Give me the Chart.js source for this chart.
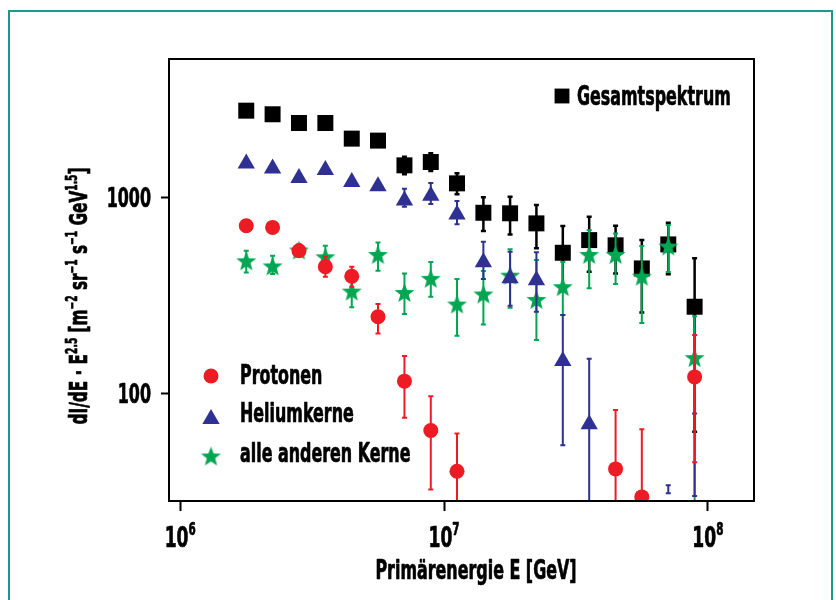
<!DOCTYPE html>
<html>
<head>
<meta charset="utf-8">
<script src="https://cdn.jsdelivr.net/npm/chart.js@4.4.1/dist/chart.umd.min.js"></script>
<style>
  html, body { margin: 0; padding: 0; background: #fff; }
  #wrap { width: 836px; height: 600px; }
</style>
</head>
<body>
<div id="wrap"><canvas id="spectrumChart" width="836" height="600"></canvas></div>
<script>
// energy bins [GeV]
const energies = [1.78e6, 2.24e6, 2.82e6, 3.55e6, 4.47e6, 5.62e6, 7.08e6, 8.91e6, 1.12e7,
  1.41e7, 1.78e7, 2.24e7, 2.82e7, 3.55e7, 4.47e7, 5.62e7, 7.08e7, 8.91e7];

// Gesamtspektrum
const totalFlux = [2780, 2665, 2405, 2405, 2002, 1956, 1463, 1521, 1184, 838, 833, 740, 524, 608, 572, 436, 578, 278];
const totalHigh = [null, null, null, null, null, null, 1619, 1685, 1332, 1005, 1012, 918, 717, 800, 720, 608, 746, 491];
const totalLow = [null, null, null, null, null, null, 1316, 1368, 1041, 676, 650, 552, 346, 419, 411, 260, 407, 64];

// Protonen
const protonFlux = [720, 706, 537, 445, 398, 247, 116, 65, 40.3, null, null, null, null, null, 41.4, 29.8, null, 122];
const protonHigh = [null, null, null, 500, 445, 287, 156, 97.3, 62.8, null, null, null, null, null, 82.6, 66, null, 199.5];
const protonLow = [null, null, null, 395, 352, 203, 75.4, 32.5, 20, null, null, null, null, null, 20, 20, null, 44.8];

// Heliumkerne
const heliumFlux = [1493, 1411, 1260, 1384, 1202, 1145, 968, 1025, 822, 469, 388, 380, 147, 70, null, null, null, null];
const heliumHigh = [null, null, null, null, null, null, 1111, 1189, 962, 596, 530, 527, 252, 151, null, null, 34.2, 79.4];
const heliumLow = [null, null, null, null, null, null, 900, 929, 732, 385, 281, 262, 54.7, 20, null, null, 31.1, 30.1];

// alle anderen Kerne
const otherFlux = [477, 449, 541, 500, 334, 514, 329, 388, 287, 323, 403, 303, 352, 514, 514, 398, 567, 153];
const otherHigh = [537, 506, 580, 569, 398, 592, 411, 470, 385, 423, 546, 481, 470, 684, 658, 567, 725, 249];
const otherLow = [416, 408, 505, 450, 276, 424, 255, 313, 198, 226, 275, 188, 252, 345, 363, 230, 418, 20];

const xTickValues = [1e6, 1e7, 1e8];
const xTickExponents = ["6", "7", "8"];
const yTickValues = [100, 1000];
const yTickLabels = ["100", "1000"];

const FONT = '"DejaVu Sans Condensed", "Liberation Sans", sans-serif';
const SX = 0.68; // the original uses a very narrow heavy face
const COLORS = {
  total: "#000000",
  proton: "#ed1c24",
  helium: "#2e3192",
  other: "#00a651",
  frame: "#1b9a8c",
};

function makeStar(color, outer, inner) {
  const c = document.createElement("canvas");
  const size = Math.ceil(outer * 2) + 2;
  c.width = size;
  c.height = size;
  const g = c.getContext("2d");
  const cx = size / 2, cy = size / 2 + 1;
  g.beginPath();
  for (let k = 0; k < 10; k++) {
    const r = k % 2 === 0 ? outer : inner;
    const a = -Math.PI / 2 + (k * Math.PI) / 5;
    const px = cx + r * Math.cos(a), py = cy + r * Math.sin(a);
    if (k === 0) g.moveTo(px, py);
    else g.lineTo(px, py);
  }
  g.closePath();
  g.fillStyle = color;
  g.fill();
  return c;
}

const starImg = makeStar(COLORS.other, 10.5, 4.4);

function toPoints(values) {
  return energies.map((e, i) => ({ x: e, y: values[i] }));
}

// error bars under each dataset's markers
const errorBarPlugin = {
  id: "errorBars",
  beforeDatasetDraw(chart, args) {
    const ds = chart.data.datasets[args.index];
    if (!ds.errHigh) return;
    const ctx = chart.ctx;
    const xs = chart.scales.x, ys = chart.scales.y;
    ctx.save();
    Chart.helpers.clipArea(ctx, chart.chartArea);
    ctx.strokeStyle = ds.backgroundColor;
    ctx.lineWidth = ds.errWidth || 2;
    energies.forEach((e, i) => {
      const hi = ds.errHigh[i], lo = ds.errLow[i];
      if (hi == null || lo == null) return;
      const x = xs.getPixelForValue(e);
      const y1 = ys.getPixelForValue(hi), y2 = ys.getPixelForValue(lo);
      ctx.beginPath();
      ctx.moveTo(x, y1);
      ctx.lineTo(x, y2);
      ctx.moveTo(x - 2.5, y1);
      ctx.lineTo(x + 2.5, y1);
      ctx.moveTo(x - 2.5, y2);
      ctx.lineTo(x + 2.5, y2);
      ctx.stroke();
    });
    Chart.helpers.unclipArea(ctx);
    ctx.restore();
  },
};

// text with superscripts, squeezed horizontally and slightly emboldened
function drawRich(ctx, parts, x, y, align, size) {
  size = size || 26;
  const big = "bold " + size + "px " + FONT;
  const small = "bold " + Math.round(size * 0.6) + "px " + FONT;
  let width = 0;
  parts.forEach(([t, sup]) => {
    ctx.font = sup ? small : big;
    width += ctx.measureText(t).width;
  });
  ctx.save();
  ctx.translate(x, y);
  ctx.scale(SX, 1);
  let cx = align === "center" ? -width / 2 : align === "right" ? -width : 0;
  ctx.textBaseline = "alphabetic";
  ctx.textAlign = "left";
  ctx.strokeStyle = ctx.fillStyle;
  ctx.lineWidth = 0.7;
  ctx.lineJoin = "round";
  parts.forEach(([t, sup]) => {
    ctx.font = sup ? small : big;
    const ty = sup ? -size * 0.42 : 0;
    ctx.fillText(t, cx, ty);
    ctx.strokeText(t, cx, ty);
    cx += ctx.measureText(t).width;
  });
  ctx.restore();
}

const decorPlugin = {
  id: "decor",
  beforeDraw(chart) {
    const ctx = chart.ctx;
    ctx.save();
    ctx.fillStyle = "#fff";
    ctx.fillRect(0, 0, chart.width, chart.height);
    ctx.strokeStyle = COLORS.frame;
    ctx.lineWidth = 2;
    ctx.strokeRect(9, 11, 823, 620);
    ctx.restore();
  },
  afterDraw(chart) {
    const ctx = chart.ctx;
    const a = chart.chartArea;
    const xs = chart.scales.x, ys = chart.scales.y;
    ctx.save();
    ctx.strokeStyle = "#000";
    ctx.lineWidth = 2;
    ctx.strokeRect(a.left, a.top, a.right - a.left, a.bottom - a.top);

    ctx.fillStyle = "#000";
    // tick labels
    xTickValues.forEach((v, i) => {
      drawRich(ctx, [["10", false], [xTickExponents[i], true]], xs.getPixelForValue(v), 547, "center", 28);
    });
    yTickValues.forEach((v, i) => {
      drawRich(ctx, [[yTickLabels[i], false]], 151, ys.getPixelForValue(v) + 9, "right");
    });

    // axis titles
    drawRich(ctx, [["Primärenergie E [GeV]", false]], 476, 579, "center");

    ctx.save();
    ctx.translate(87, 296);
    ctx.rotate(-Math.PI / 2);
    drawRich(ctx, [
      ["dI/dE · E", false], ["2.5", true], [" [m", false], ["−2", true], [" sr", false], ["−1", true],
      [" s", false], ["−1", true], [" GeV", false], ["1.5", true], ["]", false],
    ], 0, 0, "center", 25);
    ctx.restore();

    // legends
    const P = Chart.helpers.drawPoint;
    const label = (t, x, y) => drawRich(ctx, [[t, false]], x, y, "left");
    ctx.fillStyle = COLORS.total;
    P(ctx, { pointStyle: "rect", radius: 10.5, borderWidth: 0 }, 562, 96);
    ctx.fillStyle = "#000";
    label("Gesamtspektrum", 577, 105);

    ctx.fillStyle = COLORS.proton;
    P(ctx, { pointStyle: "circle", radius: 7.5, borderWidth: 0 }, 211, 376);
    ctx.fillStyle = COLORS.helium;
    P(ctx, { pointStyle: "triangle", radius: 10, borderWidth: 0 }, 211, 419);
    P(ctx, { pointStyle: starImg, radius: 10 }, 211, 456);
    ctx.fillStyle = "#000";
    label("Protonen", 240, 384);
    label("Heliumkerne", 240, 422);
    label("alle anderen Kerne", 240, 462);
    ctx.restore();
  },
};

const ctx = document.getElementById("spectrumChart");

const spectrumChart = new Chart(ctx, {
  type: "scatter",
  data: {
    datasets: [
      {
        label: "Protonen",
        data: toPoints(protonFlux),
        errHigh: protonHigh,
        errLow: protonLow,
        backgroundColor: COLORS.proton,
        pointStyle: "circle",
        pointRadius: 7.5,
        pointBorderWidth: 0,
        order: 0,
      },
      {
        label: "Heliumkerne",
        data: toPoints(heliumFlux),
        errHigh: heliumHigh,
        errLow: heliumLow,
        backgroundColor: COLORS.helium,
        pointStyle: "triangle",
        pointRadius: 10,
        pointBorderWidth: 0,
        order: 1,
      },
      {
        label: "alle anderen Kerne",
        data: toPoints(otherFlux),
        errHigh: otherHigh,
        errLow: otherLow,
        backgroundColor: COLORS.other,
        pointStyle: starImg,
        pointRadius: 10,
        order: 2,
      },
      {
        label: "Gesamtspektrum",
        data: toPoints(totalFlux),
        errHigh: totalHigh,
        errLow: totalLow,
        errWidth: 2.5,
        backgroundColor: COLORS.total,
        pointStyle: "rect",
        pointRadius: 11.3,
        pointBorderWidth: 0,
        order: 3,
      },
    ],
  },
  options: {
    responsive: false,
    animation: false,
    devicePixelRatio: 1,
    layout: { padding: { top: 59, right: 82, left: 0, bottom: 0 } },
    plugins: {
      legend: { display: false },
      tooltip: { enabled: false },
    },
    scales: {
      x: {
        type: "logarithmic",
        min: 9.07e5,
        max: 1.496e8,
        afterBuildTicks: (s) => { s.ticks = xTickValues.map((v) => ({ value: v })); },
        afterFit: (s) => { s.height = 99; },
        ticks: { display: false },
        grid: { drawOnChartArea: false, drawTicks: true, tickLength: 10, tickWidth: 2, tickColor: "#000" },
        border: { display: true, color: "#000", width: 2 },
      },
      y: {
        type: "logarithmic",
        min: 28.4,
        max: 5100,
        afterBuildTicks: (s) => { s.ticks = yTickValues.map((v) => ({ value: v })); },
        afterFit: (s) => { s.width = 169; },
        ticks: { display: false },
        grid: { drawOnChartArea: false, drawTicks: true, tickLength: 8, tickWidth: 2, tickColor: "#000" },
        border: { display: true, color: "#000", width: 2 },
      },
    },
  },
  plugins: [errorBarPlugin, decorPlugin],
});
</script>
</body>
</html>
